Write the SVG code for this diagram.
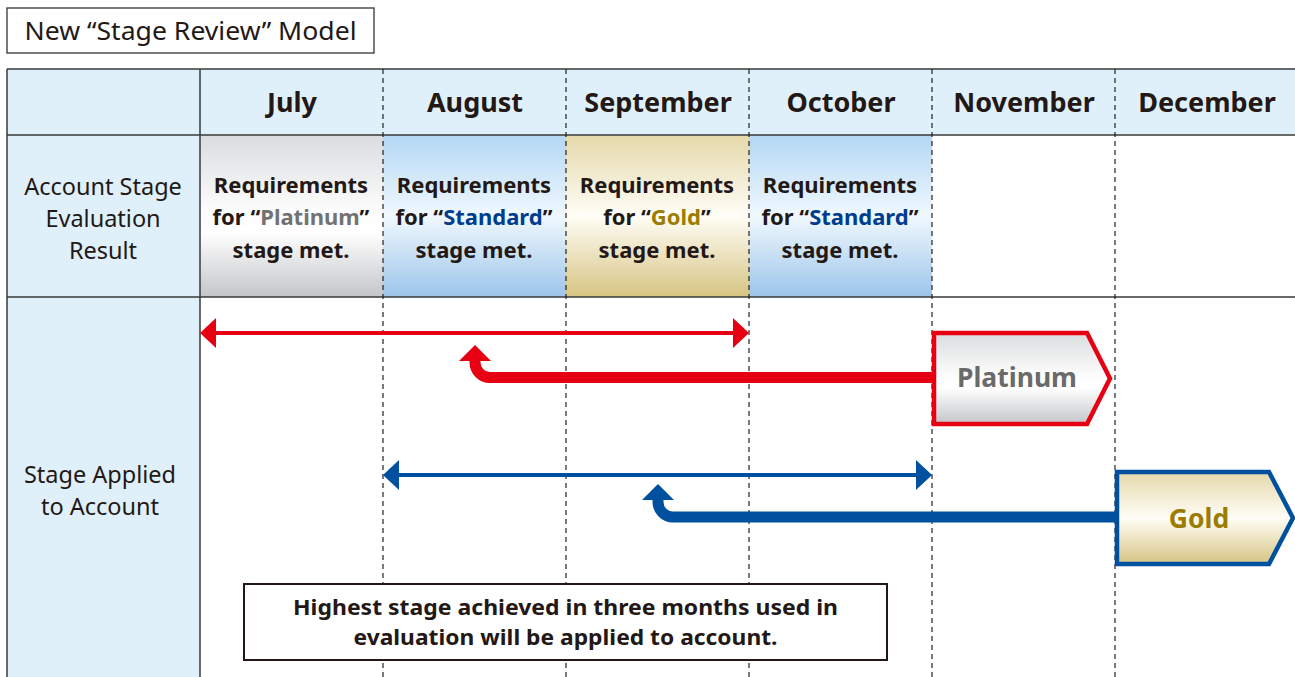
<svg xmlns="http://www.w3.org/2000/svg" width="1295" height="677" viewBox="0 0 1295 677">
<defs>
<linearGradient id="gGray" x1="0" y1="0" x2="0" y2="1">
<stop offset="0" stop-color="#dadcde"/><stop offset="0.45" stop-color="#fbfbfb"/><stop offset="0.6" stop-color="#ffffff"/><stop offset="1" stop-color="#c3c5c8"/>
</linearGradient>
<linearGradient id="gBlue" x1="0" y1="0" x2="0" y2="1">
<stop offset="0" stop-color="#b3d7f3"/><stop offset="0.5" stop-color="#f0f8fe"/><stop offset="1" stop-color="#9bc5ea"/>
</linearGradient>
<linearGradient id="gGold" x1="0" y1="0" x2="0" y2="1">
<stop offset="0" stop-color="#e5d8aa"/><stop offset="0.5" stop-color="#fffdf6"/><stop offset="1" stop-color="#d6c482"/>
</linearGradient>
<style>
text{font-family:"Noto Sans","DejaVu Sans",sans-serif;fill:#231815}
.hdr{font-size:27px;font-weight:bold;text-anchor:middle}
.lbl{font-size:23.5px;text-anchor:middle}
.req{font-size:22px;font-weight:bold;text-anchor:middle}
.grid{stroke:#3a3a3a;stroke-width:1.5;fill:none}
.dash{stroke:#222;stroke-width:1.2;stroke-dasharray:5 4;fill:none}
.red{stroke:#e60012;fill:none}
.blue{stroke:#0050a0;fill:none}
</style>
</defs>
<rect width="1295" height="677" fill="#fff"/>
<g id="title">
<rect x="7" y="8" width="367" height="45" fill="#fff" stroke="#333" stroke-width="1.3"/>
<text x="190.5" y="40" textLength="332" lengthAdjust="spacingAndGlyphs" style="font-size:26px;text-anchor:middle">New “Stage Review” Model</text>
</g>
<g id="table">
<rect x="7" y="69" width="1290" height="66" fill="#dff0fa"/>
<rect x="7" y="69" width="193" height="610" fill="#dff0fa"/>
<rect x="200" y="135" width="183" height="162" fill="url(#gGray)"/>
<rect x="383" y="135" width="183" height="162" fill="url(#gBlue)"/>
<rect x="566" y="135" width="183" height="162" fill="url(#gGold)"/>
<rect x="749" y="135" width="183" height="162" fill="url(#gBlue)"/>
<path class="grid" d="M7 69H1297M7 135H1297M7 297H1297M7 69V679M200 69V679"/>
<path class="dash" d="M383 69V677M566 69V677M749 69V677M932 69V677M1115 69V677"/>
</g>
<g id="headers">
<text class="hdr" x="292" y="112">July</text>
<text class="hdr" x="475" y="112">August</text>
<text class="hdr" x="658" y="112">September</text>
<text class="hdr" x="841" y="112">October</text>
<text class="hdr" x="1024" y="112">November</text>
<text class="hdr" x="1207" y="112">December</text>
</g>
<g id="row-labels">
<text class="lbl" x="103" y="195">Account Stage</text>
<text class="lbl" x="103" y="227">Evaluation</text>
<text class="lbl" x="103" y="259">Result</text>
<text class="lbl" x="100" y="483">Stage Applied</text>
<text class="lbl" x="100" y="515">to Account</text>
</g>
<g id="eval-july">
<text class="req" x="291" y="193">Requirements</text>
<text class="req" x="291" y="225">for “<tspan style="fill:#727272">Platinum</tspan>”</text>
<text class="req" x="291" y="258">stage met.</text>
</g>
<g id="eval-august">
<text class="req" x="474" y="193">Requirements</text>
<text class="req" x="474" y="225">for “<tspan style="fill:#003d8f">Standard</tspan>”</text>
<text class="req" x="474" y="258">stage met.</text>
</g>
<g id="eval-september">
<text class="req" x="657" y="193">Requirements</text>
<text class="req" x="657" y="225">for “<tspan style="fill:#9b7c00">Gold</tspan>”</text>
<text class="req" x="657" y="258">stage met.</text>
</g>
<g id="eval-october">
<text class="req" x="840" y="193">Requirements</text>
<text class="req" x="840" y="225">for “<tspan style="fill:#003d8f">Standard</tspan>”</text>
<text class="req" x="840" y="258">stage met.</text>
</g>
<g id="connectors">
<path class="red" stroke-width="4" d="M212 333H737"/>
<polygon fill="#e60012" points="200,333 216,318 216,348"/>
<polygon fill="#e60012" points="749,333 733,318 733,348"/>
<path class="red" stroke-width="11" d="M934 377.5H490A15 15 0 0 1 475 362.5V358"/>
<polygon fill="#e60012" points="459,361 475,345 491,361"/>
<path class="blue" stroke-width="4" d="M395 475H920"/>
<polygon fill="#0050a0" points="383,475 399,460 399,490"/>
<polygon fill="#0050a0" points="932,475 916,460 916,490"/>
<path class="blue" stroke-width="11" d="M1117 517H673A15 15 0 0 1 658 502V497"/>
<polygon fill="#0050a0" points="642,500 658,484 674,500"/>
</g>
<g id="platinum">
<polygon points="934,333 1087,333 1110,378.5 1087,424 934,424" fill="url(#gGray)" stroke="#e60012" stroke-width="4.5"/>
<text x="1017" y="387" style="font-size:26.5px;font-weight:bold;text-anchor:middle;fill:#6a6a6a">Platinum</text>
</g>
<g id="gold">
<polygon points="1117,472 1269,472 1293,518 1269,564 1117,564" fill="url(#gGold)" stroke="#0050a0" stroke-width="4.5"/>
<text x="1199" y="528" style="font-size:26.5px;font-weight:bold;text-anchor:middle;fill:#9b7c00">Gold</text>
</g>
<g id="note">
<rect x="244" y="584" width="643" height="76" fill="#fff" stroke="#231815" stroke-width="2"/>
<text x="565.5" y="615" textLength="545" lengthAdjust="spacingAndGlyphs" style="font-size:21px;font-weight:bold;text-anchor:middle">Highest stage achieved in three months used in</text>
<text x="565.5" y="645" textLength="424" lengthAdjust="spacingAndGlyphs" style="font-size:21px;font-weight:bold;text-anchor:middle">evaluation will be applied to account.</text>
</g>
</svg>
